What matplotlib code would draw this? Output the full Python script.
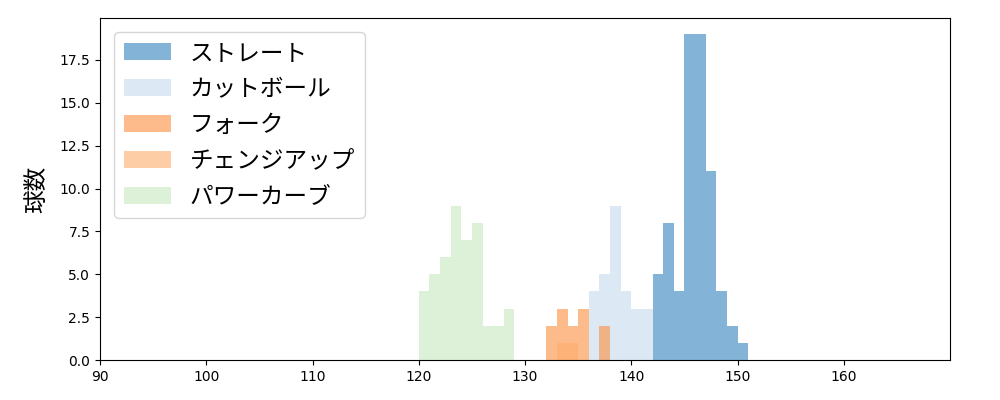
import matplotlib
matplotlib.use("Agg")
import matplotlib.pyplot as plt
import numpy as np

plt.rcParams['font.family'] = ['DejaVu Sans', 'Noto Sans CJK JP']

pitch_names = ["ストレート", "カットボール", "フォーク", "チェンジアップ", "パワーカーブ"]

straight_bins = [142, 143, 144, 145, 146, 147, 148, 149, 150]
straight_counts = [5, 8, 4, 19, 19, 11, 4, 2, 1]

cutball_bins = [136, 137, 138, 139, 140, 141]
cutball_counts = [4, 5, 9, 4, 3, 3]

fork_bins = [132, 133, 134, 135, 136, 137]
fork_counts = [2, 3, 2, 3, 0, 2]

changeup_bins = [133, 134]
changeup_counts = [1, 1]

curve_bins = [120, 121, 122, 123, 124, 125, 126, 127, 128]
curve_counts = [4, 5, 6, 9, 7, 8, 2, 2, 3]

cmap = plt.get_cmap('tab20c')
colors = [cmap(0), cmap(3), cmap(5), cmap(6), cmap(11)]

series = [(straight_bins, straight_counts), (cutball_bins, cutball_counts),
          (fork_bins, fork_counts), (changeup_bins, changeup_counts),
          (curve_bins, curve_counts)]

fig, ax = plt.subplots(figsize=(10, 4), dpi=100)
fig.subplots_adjust(left=0.1, right=0.95, top=0.955, bottom=0.1)

for name, (b, c), col in zip(pitch_names, series, colors):
    edges = list(b) + [b[-1] + 1]
    ax.hist(b, bins=edges, weights=c, color=col, alpha=0.6, label=name)

ax.set_xlim(90, 170)
ax.set_xticks([90, 100, 110, 120, 130, 140, 150, 160])
ax.set_ylabel("球数", fontsize=17, labelpad=8,
              family=['Noto Sans CJK JP', 'DejaVu Sans'])
leg = ax.legend(loc='upper left', borderaxespad=0.6, labelspacing=0.55,
                prop={'family': ['Noto Sans CJK JP', 'DejaVu Sans'], 'size': 17})

fig.savefig("out.png")
